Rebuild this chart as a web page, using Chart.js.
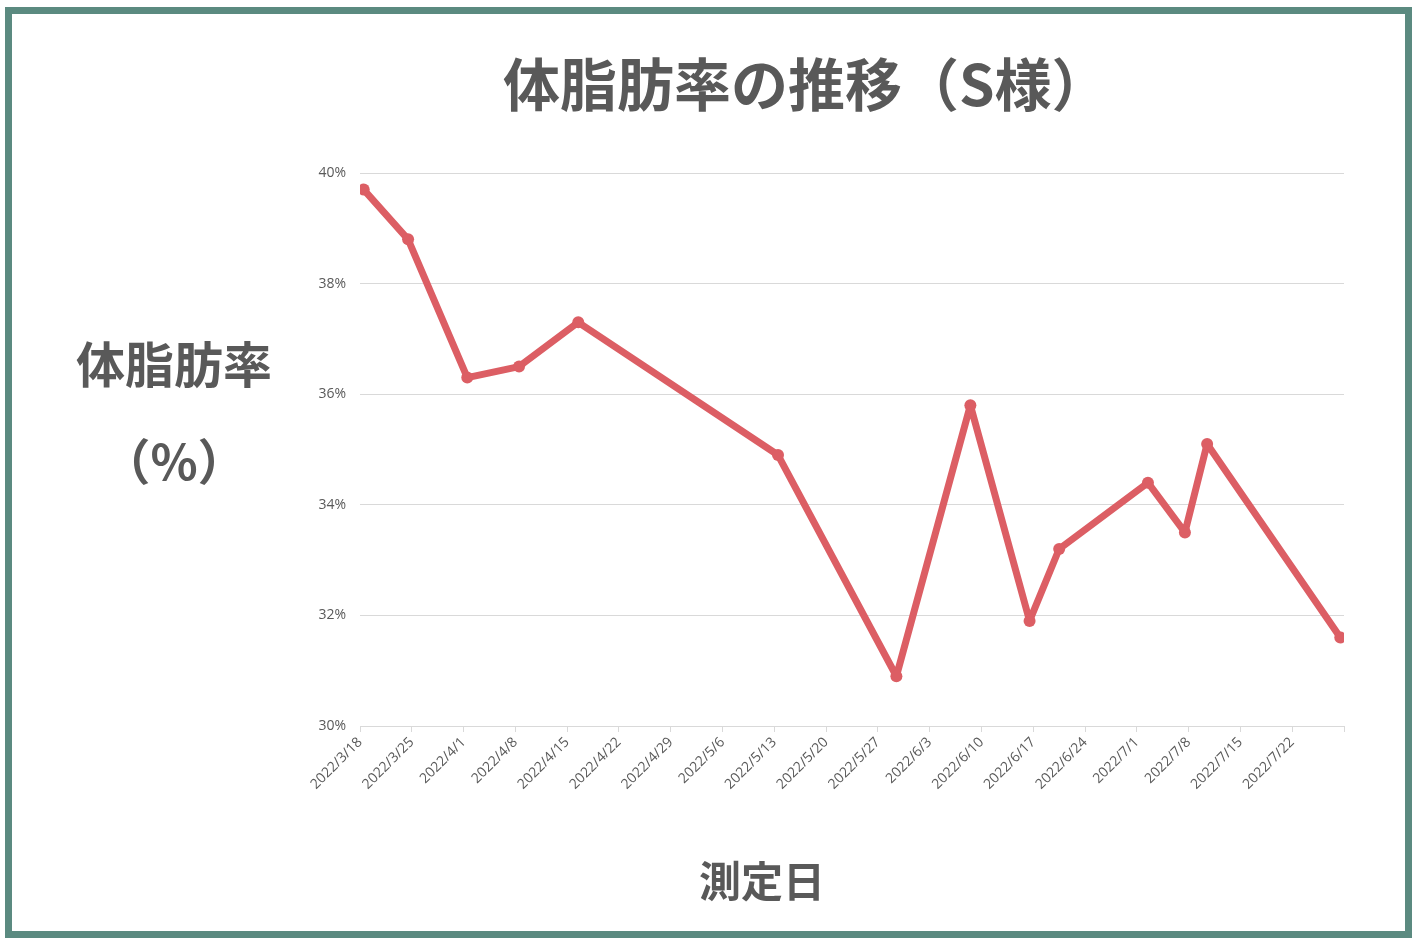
<!DOCTYPE html>
<html lang="ja">
<head>
<meta charset="utf-8">
<title>体脂肪率の推移（S様）</title>
<script src="https://cdn.jsdelivr.net/npm/chart.js@4.4.1/dist/chart.umd.min.js"></script>
<style>
    html, body { margin: 0; padding: 0; background: #ffffff; }
    #wrap { position: relative; width: 1420px; height: 944px; }
    #frame {
        position: absolute; left: 5px; top: 7px;
        width: 1393px; height: 917px;
        border: 7px solid #5b8a80;
        pointer-events: none;
    }
</style>
</head>
<body>
<div id="wrap">
    <canvas id="fatChart" width="1420" height="944"></canvas>
    <div id="frame"></div>
</div>
<script>
const measureDates = ['2022/3/18', '2022/3/24', '2022/4/1', '2022/4/8', '2022/4/16', '2022/5/13', '2022/5/29',
                      '2022/6/8', '2022/6/16', '2022/6/20', '2022/7/2', '2022/7/7', '2022/7/10', '2022/7/28'];
const fatRates = [39.7, 38.8, 36.3, 36.5, 37.3, 34.9, 30.9, 35.8, 31.9, 33.2, 34.4, 33.5, 35.1, 31.6];
const tickLabels = ['2022/3/18', '2022/3/25', '2022/4/1', '2022/4/8', '2022/4/15', '2022/4/22', '2022/4/29',
                    '2022/5/6', '2022/5/13', '2022/5/20', '2022/5/27', '2022/6/3', '2022/6/10', '2022/6/17',
                    '2022/6/24', '2022/7/1', '2022/7/8', '2022/7/15', '2022/7/22'];
const yTicks = [30, 32, 34, 36, 38, 40];

const TITLE = '体脂肪率の推移（S様）';
const Y_TITLE = ['体脂肪率', '（%）'];
const X_TITLE = '測定日';

const textColor = '#595959';
const lineColor = '#dc5e64';

// days counted from the first tick date
function dayOf(str) {
    const p = str.split('/').map(Number);
    return Date.UTC(p[0], p[1] - 1, p[2]);
}
const startDay = dayOf(tickLabels[0]);
function dayIndex(str) {
    return Math.round((dayOf(str) - startDay) / 86400000);
}

// each point sits in the middle of its day
const points = measureDates.map((d, i) => ({ x: dayIndex(d) + 0.5, y: fatRates[i] }));
const lastTick = dayIndex(tickLabels[tickLabels.length - 1]) + 7;

const titlePlugin = {
    id: 'titles',
    afterDraw(chart) {
        const ctx = chart.ctx;
        ctx.save();
        ctx.fillStyle = textColor;
        ctx.textBaseline = 'middle';

        ctx.font = "bold 57px 'Noto Sans CJK JP'";
        ctx.textAlign = 'left';
        ctx.fillText(TITLE, 503, 84);

        ctx.textAlign = 'center';
        ctx.font = "bold 49px 'Noto Sans CJK JP'";
        ctx.fillText(Y_TITLE[0], 174, 364);
        ctx.fillText(Y_TITLE[1], 174, 461);

        ctx.font = "bold 42px 'Noto Sans CJK JP'";
        ctx.fillText(X_TITLE, 762, 881);
        ctx.restore();
    }
};

const ctx = document.getElementById('fatChart').getContext('2d');
new Chart(ctx, {
    type: 'line',
    data: {
        datasets: [{
            data: points,
            borderColor: lineColor,
            backgroundColor: lineColor,
            pointBackgroundColor: lineColor,
            pointBorderColor: lineColor,
            borderWidth: 7,
            borderJoinStyle: 'round',
            borderCapStyle: 'round',
            pointRadius: 6,
            pointBorderWidth: 0,
            tension: 0,
            fill: false
        }]
    },
    options: {
        responsive: false,
        animation: false,
        devicePixelRatio: 1,
        layout: { padding: { left: 0, right: 76, top: 173, bottom: 0 } },
        plugins: {
            legend: { display: false },
            title: { display: false },
            tooltip: { enabled: false }
        },
        scales: {
            x: {
                type: 'linear',
                min: 0,
                max: lastTick,
                afterFit: s => { s.height = 218; },
                afterBuildTicks: s => {
                    s.ticks = tickLabels.map((_, i) => ({ value: i * 7 }));
                    s.ticks.push({ value: lastTick });
                },
                grid: { drawOnChartArea: false, drawTicks: true, tickLength: 6, color: '#d9d9d9' },
                border: { display: true, color: '#d9d9d9', width: 1 },
                ticks: {
                    color: textColor,
                    font: { family: "'Open Sans', sans-serif", size: 14 },
                    maxRotation: 45,
                    minRotation: 45,
                    autoSkip: false,
                    padding: 2,
                    callback: (v, i) => tickLabels[i] || ''
                }
            },
            y: {
                min: 30,
                max: 40,
                afterFit: s => { s.width = 360; },
                afterBuildTicks: s => { s.ticks = yTicks.map(v => ({ value: v })); },
                grid: { color: '#d9d9d9', drawTicks: false, lineWidth: 1 },
                border: { display: false },
                ticks: {
                    color: textColor,
                    font: { family: "'Open Sans', sans-serif", size: 14 },
                    padding: 14,
                    callback: v => v + '%'
                }
            }
        }
    },
    plugins: [titlePlugin]
});
</script>
</body>
</html>
